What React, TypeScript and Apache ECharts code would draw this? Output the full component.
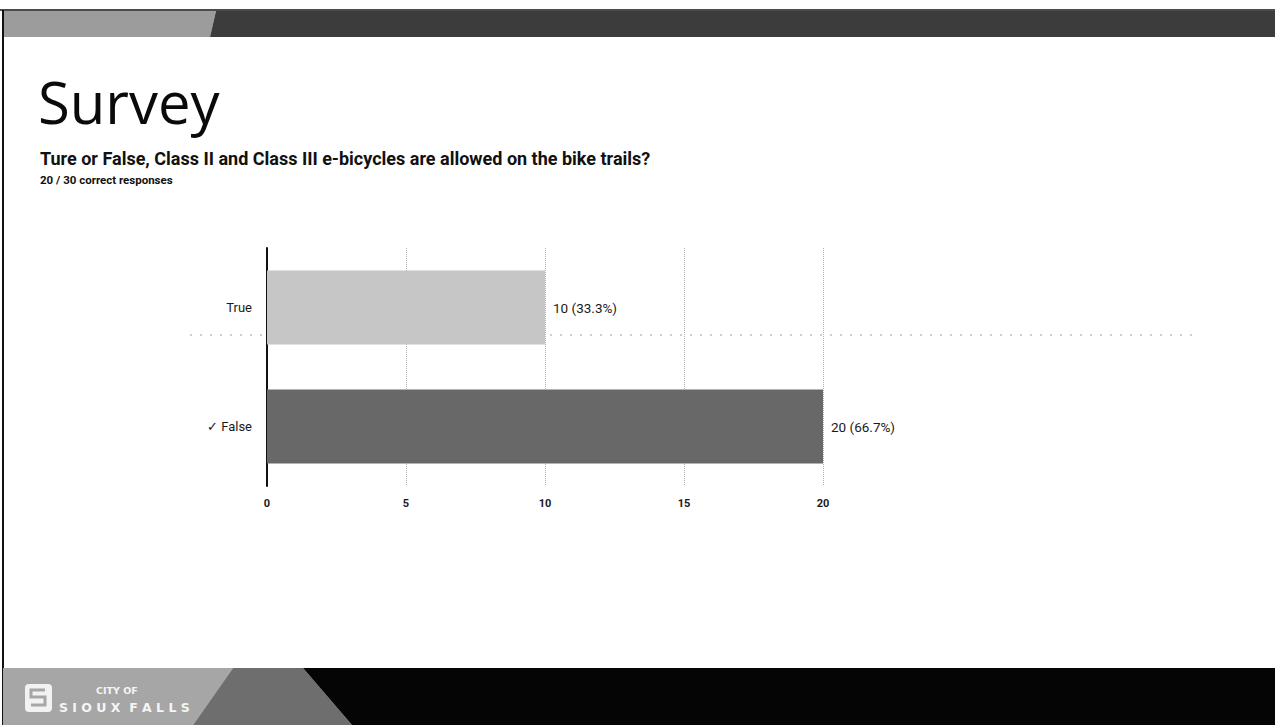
import React, { useEffect, useRef } from "react";
import * as echarts from "echarts";

const categories = ["True", "✓ False"];
const counts = [10, 20];
const totalResponses = 30;
const correctResponses = 20;
const xTicks = [0, 5, 10, 15, 20];
const barColors = ["#c6c6c6", "#686868"];
const slideTitle = "Survey";
const question = "Ture or False, Class II and Class III e-bicycles are allowed on the bike trails?";

export default function App() {
  const ref = useRef<HTMLDivElement>(null);
  useEffect(() => {
    if (!ref.current) return;
    const chart = echarts.init(ref.current, null, { renderer: "svg" });
    const pct = counts.map((c) => ((c / totalResponses) * 100).toFixed(1));
    chart.setOption({
      animation: false,
      backgroundColor: "#ffffff",
      grid: { left: 267, top: 248, width: 556, height: 238, containLabel: false },
      xAxis: {
        type: "value",
        min: xTicks[0],
        max: xTicks[xTicks.length - 1],
        interval: 5,
        axisLine: { show: false },
        axisTick: { show: false },
        axisLabel: {
          margin: 12,
          color: "#1a1a1a",
          fontFamily: "Roboto",
          fontWeight: "bold",
          fontSize: 11,
        },
        splitLine: {
          show: true,
          lineStyle: { type: "dotted", color: "#b0b0b0", width: 1 },
        },
      },
      yAxis: {
        type: "category",
        data: categories,
        inverse: true,
        axisLine: { show: true, onZero: false, lineStyle: { color: "#111", width: 2 } },
        axisTick: { show: false },
        axisLabel: {
          margin: 15,
          color: "#1a1a1a",
          fontFamily: "Roboto",
          fontSize: 13,
        },
        splitLine: { show: false },
      },
      series: [
        {
          type: "bar",
          barWidth: 74,
          data: counts.map((v, i) => ({
            value: v,
            itemStyle: { color: barColors[i] },
          })),
          label: {
            show: true,
            position: "right",
            distance: 8,
            color: "#1a1a1a",
            fontFamily: "Roboto",
            fontSize: 13.5,
            formatter: (p: any) => `${p.value} (${pct[p.dataIndex]}%)`,
          },
        },
      ],
      graphic: [
        // top band
        {
          type: "polygon",
          shape: { points: [[3, 11], [216, 11], [210, 37], [3, 37]] },
          style: { fill: "#9c9c9c" },
        },
        {
          type: "polygon",
          shape: { points: [[216, 11], [1275, 11], [1275, 37], [210, 37]] },
          style: { fill: "#3c3c3c" },
        },
        { type: "line", shape: { x1: 0, y1: 10, x2: 1275, y2: 10 }, style: { stroke: "#111", lineWidth: 1.5 } },
        // left border
        { type: "line", shape: { x1: 3, y1: 10, x2: 3, y2: 725 }, style: { stroke: "#111", lineWidth: 2 } },
        // bottom band
        {
          type: "polygon",
          shape: { points: [[3, 668], [233, 668], [193, 725], [3, 725]] },
          style: { fill: "#a6a6a6" },
        },
        {
          type: "polygon",
          shape: { points: [[233, 668], [303, 668], [352, 725], [193, 725]] },
          style: { fill: "#6e6e6e" },
        },
        {
          type: "polygon",
          shape: { points: [[303, 668], [1275, 668], [1275, 725], [352, 725]] },
          style: { fill: "#050505" },
        },
        // logo
        {
          type: "rect",
          shape: { x: 25, y: 684, width: 27, height: 28, r: 4 },
          style: { fill: "#f2f2f2" },
        },
        {
          type: "polyline",
          shape: { points: [[45, 690], [31, 690], [31, 697], [45, 697], [45, 705], [31, 705]] },
          style: { stroke: "#a6a6a6", lineWidth: 3, fill: null },
        },
        {
          type: "text",
          x: 96,
          y: 690,
          style: { text: "CITY OF", fill: "#f5f5f5", font: "bold 9.5px 'DejaVu Sans'", textVerticalAlign: "middle" },
        },
        {
          type: "text",
          x: 59,
          y: 707,
          style: { text: "S I O U X  F A L L S", fill: "#f5f5f5", font: "bold 12.5px 'DejaVu Sans'", textVerticalAlign: "middle" },
        },
        // titles
        {
          type: "text",
          x: 38,
          y: 101,
          style: { text: slideTitle, fill: "#0a0a0a", font: "58px 'Open Sans'", textVerticalAlign: "middle" },
        },
        {
          type: "text",
          x: 40,
          y: 158,
          style: { text: question, fill: "#111", font: "bold 18px Roboto", textVerticalAlign: "middle" },
        },
        {
          type: "text",
          x: 40,
          y: 180,
          style: {
            text: `${correctResponses} / ${totalResponses} correct responses`,
            fill: "#111",
            font: "bold 11.5px Roboto",
            textVerticalAlign: "middle",
          },
        },
        // scan artifact dotted line
        {
          type: "line",
          shape: { x1: 190, y1: 335, x2: 1200, y2: 335 },
          style: { stroke: "#9a9a9a", lineWidth: 1, lineDash: [2, 8] },
        },
      ],
    });
    return () => chart.dispose();
  }, []);
  return (
    <div
      ref={ref}
      style={{ position: "absolute", left: 0, top: 0, width: 1275, height: 725 }}
    />
  );
}
